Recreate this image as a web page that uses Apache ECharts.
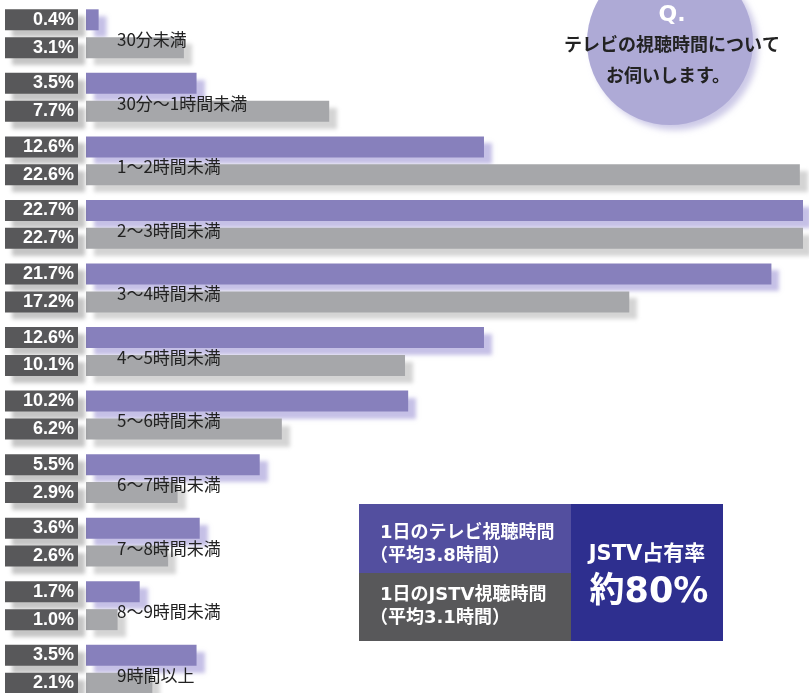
<!DOCTYPE html>
<html>
<head>
<meta charset="utf-8">
<script src="https://cdn.jsdelivr.net/npm/echarts@6/dist/echarts.min.js"></script>
<style>
html, body { margin: 0; padding: 0; background: #fff; }
#main { width: 809px; height: 693px; }
</style>
</head>
<body>
<div id="main"></div>
<script>
// 視聴時間の区分
var categories = ['30分未満', '30分〜1時間未満', '1〜2時間未満', '2〜3時間未満', '3〜4時間未満',
    '4〜5時間未満', '5〜6時間未満', '6〜7時間未満', '7〜8時間未満', '8〜9時間未満', '9時間以上'];
// テレビ全体 (%)
var tvValues = [0.4, 3.5, 12.6, 22.7, 21.7, 12.6, 10.2, 5.5, 3.6, 1.7, 3.5];
// JSTV (%)
var jstvValues = [3.1, 7.7, 22.6, 22.7, 17.2, 10.1, 6.2, 2.9, 2.6, 1.0, 2.1];

var JP = '"Noto Sans CJK JP", sans-serif';
var NARROW = '"Liberation Sans Narrow", "Liberation Sans", sans-serif';
var WIDE = '"DejaVu Sans", "Noto Sans CJK JP", sans-serif';

var chart = echarts.init(document.getElementById('main'));

function valueLabel()
{
    return {
        show: true,
        position: 'left',
        distance: 8,
        formatter: function (p) { return p.value.toFixed(1) + '%'; },
        color: '#fff',
        fontFamily: NARROW,
        fontWeight: 'bold',
        fontSize: 18,
        backgroundColor: '#58585a',
        width: 65,
        height: 21,
        lineHeight: 21,
        align: 'right',
        padding: [0, 4, 0, 4],
        shadowColor: 'rgba(90,90,90,0.35)',
        shadowOffsetX: 7,
        shadowOffsetY: 7,
        shadowBlur: 4
    };
}

var option = {
    backgroundColor: '#fff',
    animation: false,
    grid: { left: 86, top: 2, width: 717, height: 699, outerBoundsMode: 'none' },
    xAxis: {
        type: 'value',
        min: 0,
        max: 22.7,
        show: false
    },
    yAxis: {
        type: 'category',
        data: categories,
        inverse: true,
        z: 5,
        axisLine: { show: false },
        axisTick: { show: false },
        axisLabel: {
            inside: true,
            margin: 31,
            formatter: function (v) { return '{c|' + v + '}'; },
            rich: {
                c: {
                    color: '#222',
                    fontFamily: JP,
                    fontSize: 17,
                    padding: [12, 0, 0, 0]
                }
            }
        }
    },
    series: [
        {
            name: 'テレビ',
            type: 'bar',
            data: tvValues,
            barWidth: 21,
            barGap: '33%',
            itemStyle: {
                color: '#8780bc',
                shadowColor: 'rgba(150,140,210,0.55)',
                shadowOffsetX: 8,
                shadowOffsetY: 7,
                shadowBlur: 4
            },
            label: valueLabel()
        },
        {
            name: 'JSTV',
            type: 'bar',
            data: jstvValues,
            barWidth: 21,
            itemStyle: {
                color: '#a6a7aa',
                shadowColor: 'rgba(160,160,160,0.45)',
                shadowOffsetX: 8,
                shadowOffsetY: 7,
                shadowBlur: 4
            },
            label: valueLabel()
        }
    ],
    graphic: [
        // 右上の問いの円
        {
            type: 'circle',
            shape: { cx: 670, cy: 42, r: 83 },
            style: {
                fill: '#aeaad6',
                shadowColor: 'rgba(170,165,215,0.6)',
                shadowOffsetX: 5,
                shadowOffsetY: 5,
                shadowBlur: 6
            },
            z: 10
        },
        {
            type: 'text', x: 672, y: 15, z: 11,
            style: { text: 'Q.', fill: '#fff', font: 'bold 22px ' + WIDE, align: 'center', verticalAlign: 'middle' }
        },
        {
            type: 'text', x: 672, y: 44, z: 11,
            style: { text: 'テレビの視聴時間について', fill: '#222', font: 'bold 18px ' + JP, align: 'center', verticalAlign: 'middle' }
        },
        {
            type: 'text', x: 668, y: 75, z: 11,
            style: { text: 'お伺いします。', fill: '#222', font: 'bold 18px ' + JP, align: 'center', verticalAlign: 'middle' }
        },
        // 凡例ボックス
        {
            type: 'rect', z: 10,
            shape: { x: 359, y: 504, width: 212, height: 69 },
            style: { fill: '#534f9f' }
        },
        {
            type: 'rect', z: 10,
            shape: { x: 359, y: 573, width: 212, height: 68 },
            style: { fill: '#58585a' }
        },
        {
            type: 'rect', z: 10,
            shape: { x: 571, y: 504, width: 152, height: 137 },
            style: { fill: '#2e2f8f' }
        },
        {
            type: 'text', x: 380, y: 533, z: 11,
            style: { text: '1日のテレビ視聴時間', fill: '#fff', font: 'bold 18px ' + WIDE, verticalAlign: 'middle' }
        },
        {
            type: 'text', x: 370, y: 556, z: 11,
            style: { text: '（平均3.8時間）', fill: '#fff', font: 'bold 18px ' + WIDE, verticalAlign: 'middle' }
        },
        {
            type: 'text', x: 380, y: 595, z: 11,
            style: { text: '1日のJSTV視聴時間', fill: '#fff', font: 'bold 18px ' + WIDE, verticalAlign: 'middle' }
        },
        {
            type: 'text', x: 370, y: 618, z: 11,
            style: { text: '（平均3.1時間）', fill: '#fff', font: 'bold 18px ' + WIDE, verticalAlign: 'middle' }
        },
        {
            type: 'text', x: 647, y: 555, z: 11,
            style: { text: 'JSTV占有率', fill: '#fff', font: 'bold 21px ' + WIDE, align: 'center', verticalAlign: 'middle' }
        },
        {
            type: 'text', x: 649, y: 593, z: 11,
            style: { text: '約80%', fill: '#fff', font: 'bold 35px ' + WIDE, align: 'center', verticalAlign: 'middle' }
        }
    ]
};

chart.setOption(option);
</script>
</body>
</html>
